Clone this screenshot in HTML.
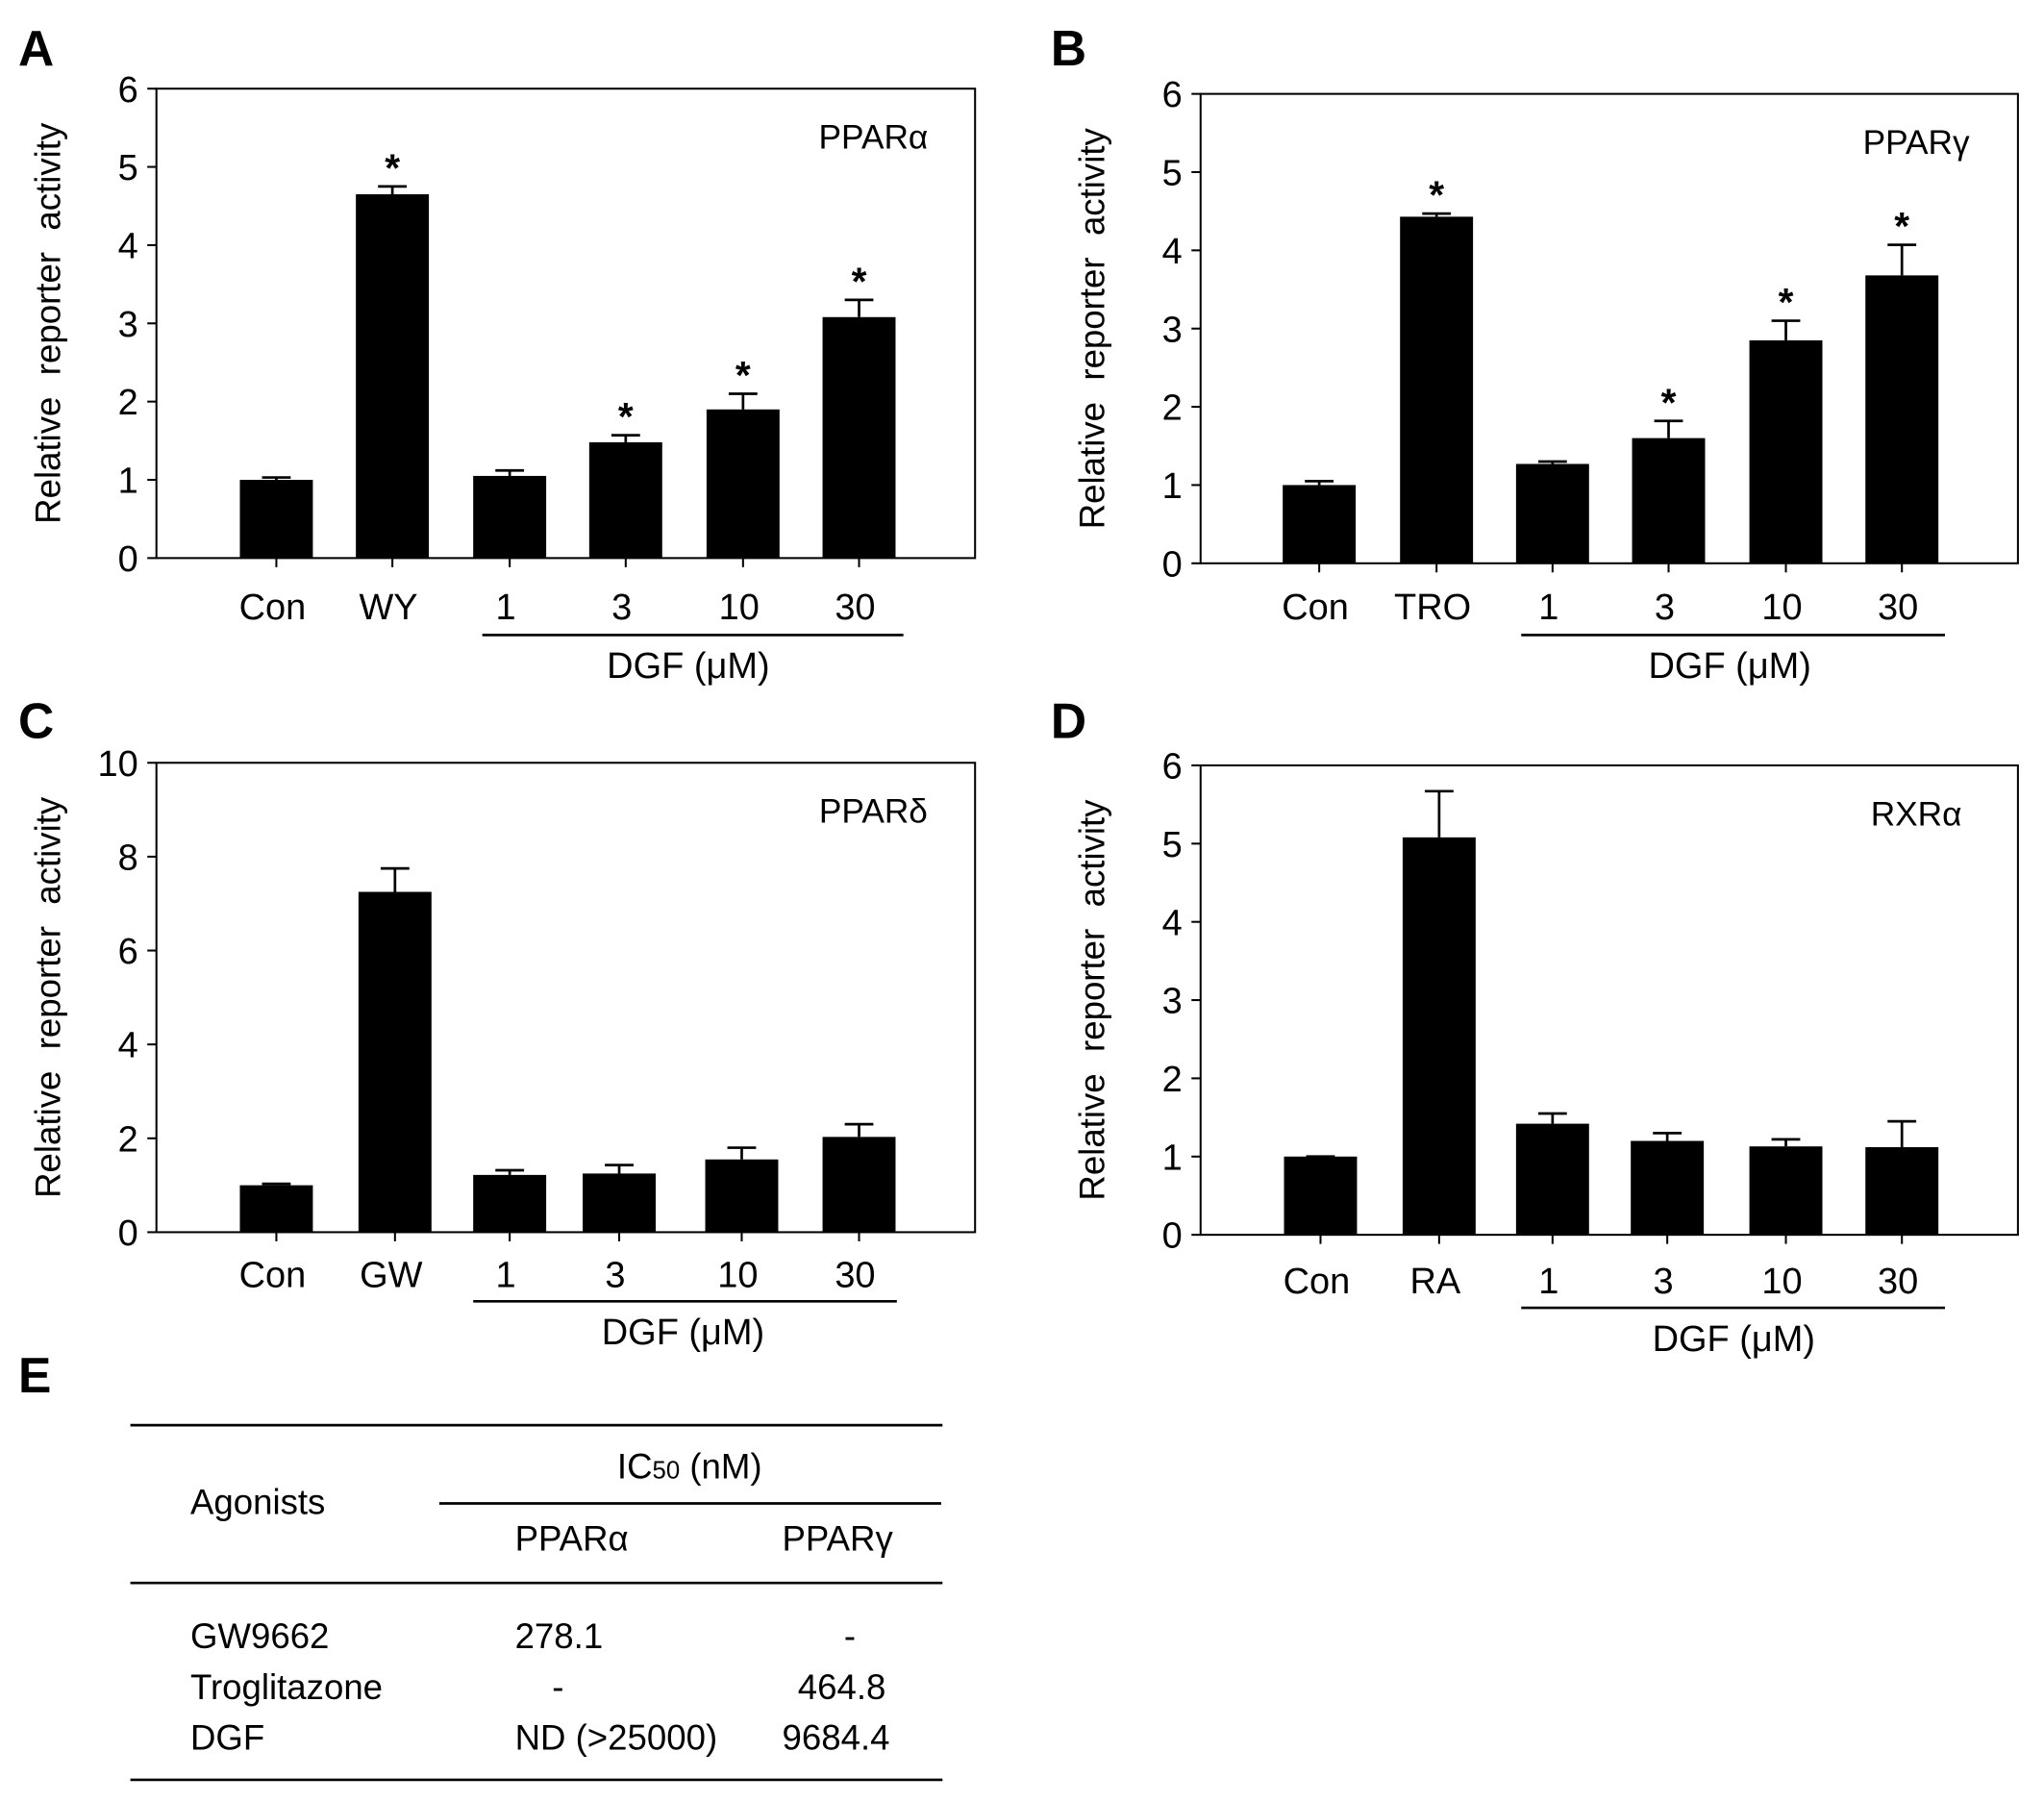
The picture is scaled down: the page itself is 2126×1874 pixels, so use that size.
<!DOCTYPE html>
<html><head><meta charset="utf-8"><style>
html,body{margin:0;padding:0;background:#fff;}
svg{display:block;}
text{font-family:"Liberation Sans Narrow","Liberation Sans",sans-serif;fill:#000;}
.yt{font-family:"Liberation Sans",sans-serif;font-size:27px;word-spacing:9px;}
.pl{font-family:"Liberation Sans",sans-serif;font-weight:bold;font-size:38px;}
</style></head><body>
<svg id="fig" width="2126" height="1874" viewBox="0 0 1568 1382" preserveAspectRatio="none" xmlns="http://www.w3.org/2000/svg">
<text class="pl" x="14" y="50">A</text>
<text class="pl" x="806" y="50">B</text>
<text class="pl" x="14" y="566">C</text>
<text class="pl" x="806" y="566">D</text>
<text class="pl" x="14" y="1068">E</text>
<g font-size="27">
<line x1="100" y1="1093" x2="723" y2="1093" stroke="#000" stroke-width="2"/>
<line x1="337" y1="1153" x2="722" y2="1153" stroke="#000" stroke-width="2"/>
<line x1="100" y1="1214" x2="723" y2="1214" stroke="#000" stroke-width="2"/>
<line x1="100" y1="1365" x2="723" y2="1365" stroke="#000" stroke-width="2"/>
<text x="146" y="1161">Agonists</text>
<text x="529" y="1134" text-anchor="middle">IC<tspan font-size="19">50</tspan> (nM)</text>
<text x="395" y="1189">PPARα</text>
<text x="600" y="1189">PPARγ</text>
<text x="146" y="1264">GW9662</text>
<text x="395" y="1264">278.1</text>
<text x="652" y="1264" text-anchor="middle">-</text>
<text x="146" y="1303">Troglitazone</text>
<text x="428" y="1303" text-anchor="middle">-</text>
<text x="612" y="1303">464.8</text>
<text x="146" y="1342">DGF</text>
<text x="395" y="1342">ND (&gt;25000)</text>
<text x="600" y="1342">9684.4</text>
</g>
</svg>
<script>
const NS="http://www.w3.org/2000/svg";
const svg=document.getElementById('fig');
const catA=["Con","WY","1","3","10","30"];
const valA=[1.0,4.65,1.05,1.48,1.9,3.08];
const errA=[0.03,0.1,0.07,0.09,0.2,0.22];
const starA=[0,1,0,1,1,1];
const catB=["Con","TRO","1","3","10","30"];
const valB=[1.0,4.43,1.27,1.6,2.85,3.68];
const errB=[0.05,0.04,0.03,0.22,0.25,0.39];
const starB=[0,1,0,1,1,1];
const catC=["Con","GW","1","3","10","30"];
const valC=[1.0,7.25,1.22,1.25,1.55,2.03];
const errC=[0.03,0.5,0.1,0.18,0.25,0.27];
const starC=[0,0,0,0,0,0];
const catD=["Con","RA","1","3","10","30"];
const valD=[1.0,5.08,1.42,1.2,1.13,1.12];
const errD=[0.0,0.59,0.13,0.1,0.09,0.33];
const starD=[0,0,0,0,0,0];
const ticksA=[0,1,2,3,4,5,6], ticksC=[0,2,4,6,8,10];

function el(tag,attrs,parent,txt){const e=document.createElementNS(NS,tag);for(const k in attrs)e.setAttribute(k,attrs[k]);if(txt!==undefined)e.textContent=txt;(parent||svg).appendChild(e);return e;}

function panel(id,box,ymax,ticks,cats,vals,errs,stars,title,centers,lblY,lineX,lineY,dgfX){
  const g=el('g',{});
  
  
  const [L,T,R,B]=box;
  const y=v=>B-(v/ymax)*(B-T);
  const bw=56;
  vals.forEach((v,i)=>{
    const cx=centers[i];
    const b=el('rect',{x:cx-bw/2,y:y(v),width:bw,height:B-y(v),fill:'#000'},g);
    
    
    if(errs[i]>0){
      const ye=y(v+errs[i]);
      const e1=el('line',{x1:cx,y1:y(v),x2:cx,y2:ye,stroke:'#000','stroke-width':2},g);
      
      
      el('line',{x1:cx-11,y1:ye,x2:cx+11,y2:ye,stroke:'#000','stroke-width':2},g);
    } else {
      el('line',{x1:cx-11,y1:y(v),x2:cx+11,y2:y(v),stroke:'#000','stroke-width':2},g);
    }
    if(stars[i]){
      const s=el('text',{x:cx,y:y(v+errs[i])-4,'text-anchor':'middle','font-size':30,'font-weight':'bold'},g,'*');
      
      
    }
    el('line',{x1:cx,y1:B,x2:cx,y2:B+7,stroke:'#000','stroke-width':1.5},g);
    const t=el('text',{x:cx-3,y:lblY,'text-anchor':'middle','font-size':28},g,cats[i]);
    
    
  });
  const fr=el('rect',{x:L,y:T,width:R-L,height:B-T,fill:'none',stroke:'#000','stroke-width':1.5},g);
  
  
  ticks.forEach(tv=>{
    el('line',{x1:L-7,y1:y(tv),x2:L,y2:y(tv),stroke:'#000','stroke-width':1.5},g);
    const t=el('text',{x:L-14,y:y(tv)+10,'text-anchor':'end','font-size':28},g,String(tv));
    
    
  });
  const yl=el('text',{class:'yt',x:0,y:0,'text-anchor':'middle',transform:`translate(${L-74},${(T+B)/2}) rotate(-90)`},g,'Relative  reporter  activity');
  
  
  const ti=el('text',{x:R-78,y:T+46,'text-anchor':'middle','font-size':26},g,title);
  
  
  el('line',{x1:lineX[0],y1:lineY,x2:lineX[1],y2:lineY,stroke:'#000','stroke-width':2},g);
  const dg=el('text',{x:dgfX,y:lineY+33,'text-anchor':'middle','font-size':28},g,'DGF (μM)');
  
  
}
panel('a',[120,68,748,428],6,ticksA,catA,valA,errA,starA,'PPARα',[212,301,391,480,570,659],475,[370,693],487,528);
panel('b',[921,72,1548,432],6,ticksA,catB,valB,errB,starB,'PPARγ',[1012,1102,1191,1280,1370,1459],475,[1167,1492],487,1327);
panel('c',[120,585,748,945],10,ticksC,catC,valC,errC,starC,'PPARδ',[212,303,391,475,569,659],987,[363,688],998,524);
panel('d',[921,587,1548,947],6,ticksA,catD,valD,errD,starD,'RXRα',[1013,1104,1191,1279,1370,1459],992,[1167,1492],1003,1330);
</script>
</body></html>
